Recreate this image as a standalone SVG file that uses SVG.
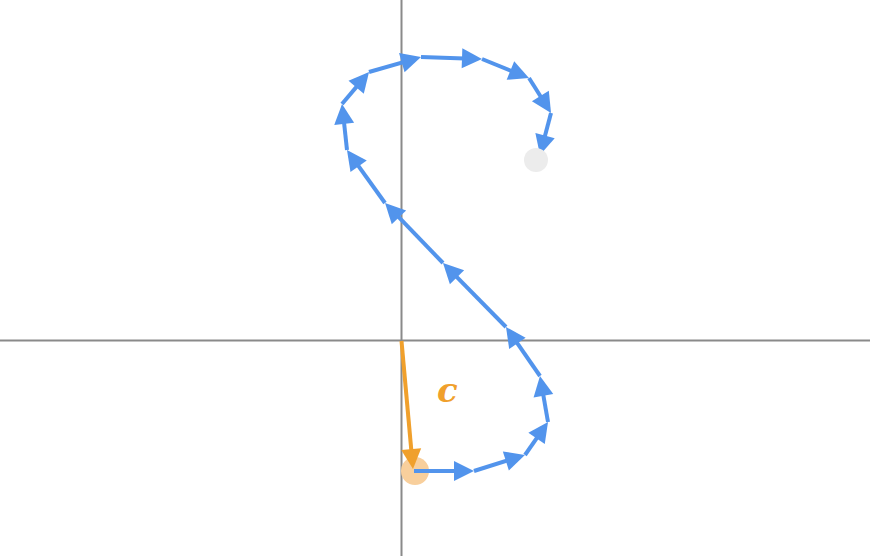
<svg xmlns="http://www.w3.org/2000/svg" width="870" height="556" viewBox="0 0 870 556">
<style>
.axis{stroke:#8a8a8a;stroke-width:2;fill:none}
.vec{stroke:#5294ec;stroke-width:4;fill:none;marker-end:url(#ab)}
.cvec{stroke:#f0a02c;stroke-width:4;fill:none;marker-end:url(#ao)}
</style>
<defs>
<marker id="ab" markerUnits="userSpaceOnUse" markerWidth="20" markerHeight="20" refX="10" refY="10" orient="auto" overflow="visible"><path d="M0,0 L20,10 L0,20 Z" fill="#5294ec"/></marker>
<marker id="ao" markerUnits="userSpaceOnUse" markerWidth="20" markerHeight="20" refX="10" refY="10" orient="auto" overflow="visible"><path d="M0,0 L20,10 L0,20 Z" fill="#f0a02c"/></marker>
</defs>
<rect width="870" height="556" fill="#fff"/>
<g id="axes">
<line class="axis" x1="401.5" y1="0" x2="401.5" y2="556"/>
<line class="axis" x1="0" y1="340.5" x2="870" y2="340.5"/>
</g>
<g id="start-dot"><circle cx="415" cy="471" r="14" fill="#f8cf9c"/></g>
<g id="connectors">
<line class="vec" x1="414" y1="471" x2="464" y2="471"/>
<line class="vec" x1="474" y1="471" x2="515.4" y2="458"/>
<line class="vec" x1="525" y1="455" x2="542.3" y2="430.2"/>
<line class="vec" x1="548" y1="422" x2="541.7" y2="385.9"/>
<line class="vec" x1="540" y1="376" x2="511.7" y2="335.2"/>
<line class="vec" x1="506" y1="327" x2="450" y2="270.1"/>
<line class="vec" x1="443" y1="263" x2="392" y2="210.2"/>
<line class="vec" x1="385" y1="203" x2="352.8" y2="158.1"/>
<line class="vec" x1="347" y1="150" x2="343.1" y2="113.9"/>
<line class="vec" x1="342" y1="104" x2="362.6" y2="79.6"/>
<line class="vec" x1="369" y1="72" x2="411.4" y2="59.8"/>
<line class="vec" x1="421" y1="57" x2="472" y2="58.7"/>
<line class="vec" x1="482" y1="59" x2="519.7" y2="74.3"/>
<line class="vec" x1="529" y1="78" x2="545.7" y2="104.5"/>
<line class="vec" x1="551" y1="113" x2="542.5" y2="145.3"/>
<line class="cvec" x1="401.5" y1="341" x2="412.1" y2="459"/>
</g>
<g id="end-dot"><circle cx="536" cy="160" r="12" fill="#ececec"/></g>
<g id="label-c"><text x="437" y="402" font-family="DejaVu Serif, serif" font-style="italic" font-weight="bold" font-size="34" fill="#f0a02c">c</text></g>
</svg>
